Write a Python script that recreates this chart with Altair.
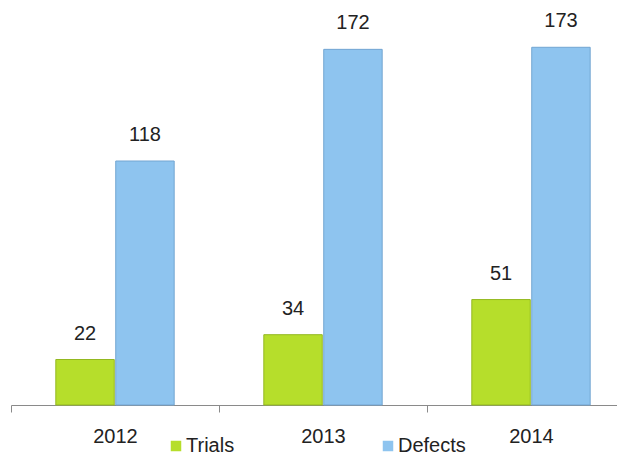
import altair as alt
import pandas as pd

years = ["2012", "2013", "2014"]
series = ["Trials", "Defects"]
trials = [22, 34, 51]
defects = [118, 172, 173]

rows = []
for i, y in enumerate(years):
    rows.append({"year": y, "series": "Trials", "value": trials[i]})
    rows.append({"year": y, "series": "Defects", "value": defects[i]})
df = pd.DataFrame(rows)

colors = ["#b6de2b", "#8ec4ef"]
strokes = ["#93b820", "#72a5d2"]
FONT = "Liberation Sans"

x = alt.X("year:N", sort=years, title=None,
          scale=alt.Scale(range=[0, 624], paddingInner=0, paddingOuter=0),
          axis=alt.Axis(labelAngle=0, labelFontSize=20, labelFont=FONT,
                        labelColor="#222222", domainColor="#8a8a8a", tickColor="#8a8a8a",
                        tickSize=7, tickBand="extent", labelPadding=14, domainWidth=1))
xo = alt.XOffset("series:N", sort=series,
                 scale=alt.Scale(paddingInner=0.025, paddingOuter=0.748))
y = alt.Y("value:Q", scale=alt.Scale(domain=[0, 192]), axis=None)

base = alt.Chart(df)

bars = base.mark_bar(strokeWidth=1).encode(
    x=x, xOffset=xo, y=y,
    color=alt.Color("series:N", sort=series,
                    scale=alt.Scale(domain=series, range=colors),
                    legend=alt.Legend(title=None, orient="none", direction="horizontal",
                                      legendX=155, legendY=428, symbolType="square",
                                      symbolSize=110, labelFontSize=20,
                                      labelFont=FONT, labelColor="#222222",
                                      columnPadding=143, symbolStrokeWidth=0,
                                      labelOffset=0)),
    stroke=alt.Stroke("series:N", sort=series,
                      scale=alt.Scale(domain=series, range=strokes), legend=None),
)

labels = base.mark_text(dy=-16, fontSize=20, font=FONT, color="#222222",
                        baseline="bottom").encode(
    x=x, xOffset=xo, y=y, text=alt.Text("value:Q"))

chart = (bars + labels).properties(
    width=606, height=397,
    autosize=alt.AutoSizeParams(type="none"),
    padding={"left": 3, "top": 0, "right": 0, "bottom": 52},
).configure_view(stroke=None)

chart.save("out.html", embed_options={"renderer": "svg", "actions": False})
